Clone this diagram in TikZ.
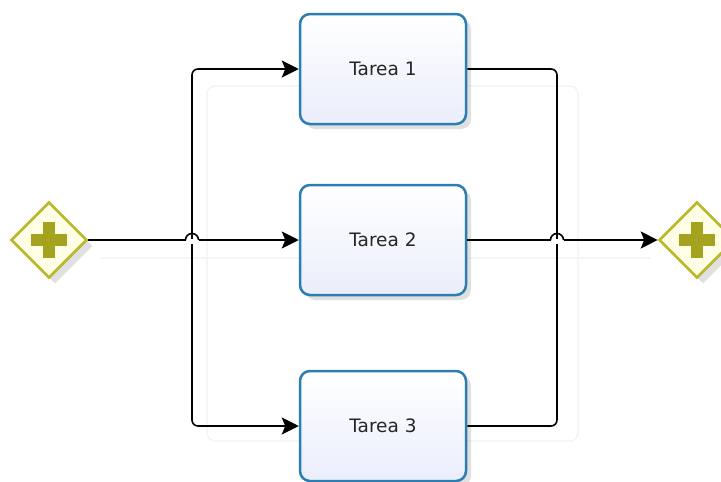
\documentclass[tikz,border=0pt]{standalone}
\usepackage{fontspec}
\setmainfont{DejaVu Sans}
\usetikzlibrary{shapes.geometric,arrows.meta,shadows}
\definecolor{taskborder}{HTML}{2C7DB2}
\definecolor{taskfill}{HTML}{EAEEFB}
\definecolor{gwborder}{HTML}{B9B92C}
\definecolor{gwfill}{HTML}{FFFFE6}
\definecolor{gwplus}{HTML}{A3A31F}
\tikzset{
  taskbox/.style={draw=taskborder, line width=2.5pt, rounded corners=10pt,
    top color=white, bottom color=taskfill, minimum width=166pt, minimum height=110pt,
    inner sep=0pt, text=black!85, font=\fontsize{18.5}{20}\selectfont,
    drop shadow={shadow xshift=5pt, shadow yshift=-5pt, opacity=0.12, fill=black}},
  gateway/.style={diamond, draw=gwborder, line width=2.6pt, fill=gwfill,
    minimum width=76pt, minimum height=76pt, inner sep=0pt,
    drop shadow={shadow xshift=6pt, shadow yshift=-6pt, opacity=0.12, fill=black}},
  flow/.style={line width=1.6pt, black},
  arrowflow/.style={flow, -{Stealth[length=17pt,width=17pt,inset=3.5pt]}},
  ghost/.style={draw=black!5, line width=1.2pt, rounded corners=8pt}
}
\begin{document}
\begin{tikzpicture}[x=1pt,y=-1pt]
\useasboundingbox (0,0) rectangle (721,482);
\fill[white] (0,0) rectangle (721,482);
% faint background artifact
\draw[ghost] (207,86) rectangle (578,441);
\draw[draw=black!4, line width=1.2pt] (100,258) -- (650,258);

% nodes
\node[taskbox] (t1) at (383,69) {Tarea 1};
\node[taskbox] (t2) at (383,240) {Tarea 2};
\node[taskbox] (t3) at (383,426) {Tarea 3};
\node[gateway] (g1) at (49,240) {};
\node[gateway] (g2) at (697,240) {};
\foreach \g in {g1,g2}{
  \fill[gwplus] ([xshift=-18pt,yshift=-6pt]\g.center) rectangle ([xshift=18pt,yshift=6pt]\g.center);
  \fill[gwplus] ([xshift=-6pt,yshift=-18pt]\g.center) rectangle ([xshift=6pt,yshift=18pt]\g.center);
}

% junction coordinates
\coordinate (jl) at (192,240);
\coordinate (jr) at (557,240);

% left branches
\draw[arrowflow, rounded corners=6pt] (jl) |- (t1.west);
\draw[arrowflow, rounded corners=6pt] (jl) |- (t3.west);
% right branches
\draw[flow, rounded corners=6pt] (t1.east) -| (jr);
\draw[flow, rounded corners=6pt] (t3.east) -| (jr);

% middle flows with line hops
\draw[flow] (g1.east) -- ([xshift=-6.5pt]jl);
\fill[white] ([xshift=-5pt,yshift=0.7pt]jl) rectangle ([xshift=5pt,yshift=-4.3pt]jl);
\draw[flow] ([xshift=-6.5pt]jl) arc[start angle=180, end angle=0, radius=6.5pt];
\draw[arrowflow] ([xshift=6.5pt]jl) -- (t2.west);

\draw[flow] (t2.east) -- ([xshift=-6.5pt]jr);
\fill[white] ([xshift=-5pt,yshift=0.7pt]jr) rectangle ([xshift=5pt,yshift=-4.3pt]jr);
\draw[flow] ([xshift=-6.5pt]jr) arc[start angle=180, end angle=0, radius=6.5pt];
\draw[arrowflow] ([xshift=6.5pt]jr) -- (g2.west);
\end{tikzpicture}
\end{document}
